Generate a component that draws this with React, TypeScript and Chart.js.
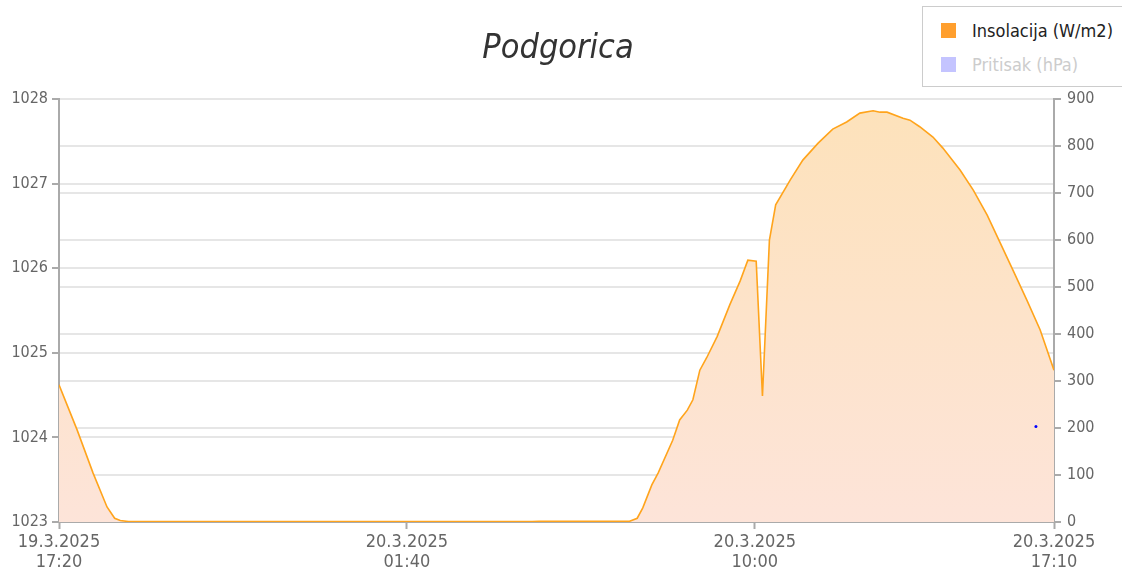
import React, { useEffect, useRef } from 'react';
import { Chart, registerables } from 'chart.js';

Chart.register(...registerables);

const FONT = '"DejaVu Sans Condensed", "DejaVu Sans", sans-serif';

// minutes since 19.3.2025 17:20
const minutes = [
  0, 26, 49, 69, 80, 88, 100, 200, 300, 400, 500, 600, 680, 690, 800, 820, 831, 839, 852, 861, 882, 892, 903,
  911, 921, 931, 946, 964, 979, 990, 1002, 1011, 1021, 1030, 1051, 1069, 1091, 1112, 1132, 1151, 1170, 1180,
  1190, 1213, 1223, 1237, 1256, 1270, 1295, 1314, 1334, 1352, 1371, 1391, 1410, 1430,
];
const insolation = [
  292, 196, 104, 32, 8, 3, 1, 1, 1, 1, 1, 1, 1, 1.5, 1.5, 1.5, 8, 30, 79, 104, 174, 217, 238,
  260, 323, 350, 395, 462, 513, 557, 555, 268, 600, 675, 728, 770, 806, 836, 851, 870, 875, 872,
  872, 859, 855, 841, 819, 796, 749, 706, 653, 596, 536, 472, 409, 323,
];
const pressureMinutes = [1404];
const pressureValues = [1024.13];

const xTickMinutes = [0, 500, 1000, 1430];
const xTickLabels = [
  ['19.3.2025', '17:20'],
  ['20.3.2025', '01:40'],
  ['20.3.2025', '10:00'],
  ['20.3.2025', '17:10'],
];

export default function App() {
  const ref = useRef<HTMLCanvasElement>(null);

  useEffect(() => {
    document.body.style.margin = '0';
    const gradient = (ctx: any) => {
      const chart = ctx.chart;
      const area = chart.chartArea;
      if (!area) return 'rgba(253,226,200,1)';
      const g = chart.ctx.createLinearGradient(0, area.top, 0, area.bottom);
      g.addColorStop(0, '#fde2ba');
      g.addColorStop(1, '#fde4d9');
      return g;
    };
    const tickFont = { family: FONT, size: 16 };
    const chart = new Chart(ref.current!, {
      type: 'line',
      data: {
        datasets: [
          {
            label: 'Insolacija (W/m2)',
            data: minutes.map((m, i) => ({ x: m, y: insolation[i] })),
            yAxisID: 'yRight',
            borderColor: '#ffa41c',
            borderWidth: 1.6,
            pointRadius: 0,
            fill: 'origin',
            backgroundColor: gradient,
            tension: 0,
            order: 1,
          },
          {
            label: 'Pritisak (hPa)',
            data: pressureMinutes.map((m, i) => ({ x: m, y: pressureValues[i] })),
            yAxisID: 'yLeft',
            showLine: false,
            pointRadius: 1.5,
            pointBorderWidth: 0,
            pointBackgroundColor: '#0000ff',
            borderColor: '#0000ff',
            order: -1,
          },
        ],
      },
      options: {
        animation: false,
        responsive: false,
        layout: { padding: { top: 99, left: 0, right: 0, bottom: 0 } },
        plugins: {
          legend: { display: false },
          title: { display: false },
          tooltip: { enabled: false },
        },
        scales: {
          x: {
            type: 'linear',
            min: 0,
            max: 1430,
            afterBuildTicks: (s: any) => {
              s.ticks = xTickMinutes.map((v) => ({ value: v }));
            },
            afterFit: (s: any) => {
              s.height = 53;
            },
            ticks: {
              autoSkip: false,
              maxRotation: 0,
              color: '#666',
              font: { family: FONT, size: 18, lineHeight: 1.12 },
              padding: 3,
              callback: (v: any) => {
                const i = xTickMinutes.indexOf(Number(v));
                return i >= 0 ? xTickLabels[i] : '';
              },
            },
            grid: { drawOnChartArea: false, tickLength: 7, tickColor: '#aaa', tickWidth: 2 },
            border: { color: '#aaa', width: 2 },
          },
          yLeft: {
            type: 'linear',
            position: 'left',
            min: 1023,
            max: 1028,
            afterFit: (s: any) => {
              s.width = 59;
            },
            ticks: { stepSize: 1, color: '#666', font: tickFont, padding: 4, callback: (v: any) => String(v) },
            grid: { color: '#e6e6e6', lineWidth: 2, tickLength: 7, tickColor: '#aaa', tickWidth: 2 },
            border: { color: '#aaa', width: 2 },
          },
          yRight: {
            type: 'linear',
            position: 'right',
            min: 0,
            max: 900,
            afterFit: (s: any) => {
              s.width = 68;
            },
            ticks: { stepSize: 100, color: '#666', font: tickFont, padding: 6, callback: (v: any) => String(v) },
            grid: { color: '#e6e6e6', lineWidth: 2, tickLength: 7, tickColor: '#aaa', tickWidth: 2 },
            border: { color: '#aaa', width: 2 },
          },
        },
      } as any,
    });
    return () => chart.destroy();
  }, []);

  return (
    <div style={{ position: 'fixed', left: 0, top: 0, width: 1122, height: 575, overflow: 'hidden', background: '#fff' }}>
      <canvas ref={ref} width={1122} height={575} style={{ position: 'absolute', left: 0, top: 0 }} />
      <div
        style={{
          position: 'absolute',
          left: 408,
          top: 29,
          width: 300,
          textAlign: 'center',
          fontFamily: FONT,
          fontStyle: 'italic',
          fontSize: 34,
          lineHeight: '34px',
          color: '#333',
        }}
      >
        Podgorica
      </div>
      <div
        style={{
          position: 'absolute',
          left: 922,
          top: 6,
          width: 220,
          height: 79,
          border: '1px solid #ccc',
          background: '#fff',
          fontFamily: FONT,
          fontSize: 18,
        }}
      >
        <div style={{ position: 'absolute', left: 18, top: 16, width: 15, height: 15, background: '#ff9f2e' }} />
        <div style={{ position: 'absolute', left: 49, top: 15, lineHeight: '18px', color: '#222', whiteSpace: 'nowrap' }}>
          Insolacija (W/m2)
        </div>
        <div style={{ position: 'absolute', left: 18, top: 50, width: 15, height: 15, background: '#c4c4ff' }} />
        <div style={{ position: 'absolute', left: 49, top: 49, lineHeight: '18px', color: '#ccc', whiteSpace: 'nowrap' }}>
          Pritisak (hPa)
        </div>
      </div>
    </div>
  );
}
